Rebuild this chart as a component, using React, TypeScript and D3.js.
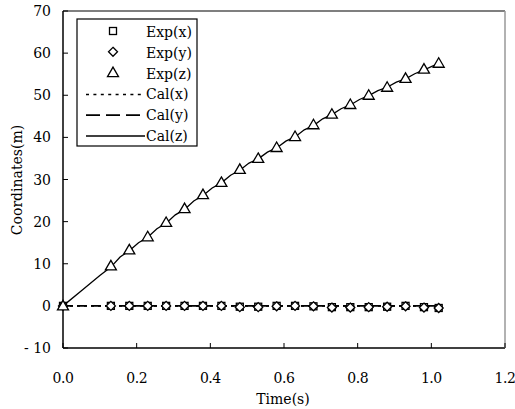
import * as d3 from "d3";

// measured points
const expT = [0, 0.13, 0.18, 0.23, 0.28, 0.33, 0.38, 0.43, 0.48, 0.53, 0.58, 0.63, 0.68, 0.73, 0.78, 0.83, 0.88, 0.93, 0.98, 1.02];
const expX = [0, 0, 0, 0, 0, 0, 0, 0, -0.2, -0.2, 0, 0, -0.1, -0.3, -0.3, -0.3, -0.2, 0, -0.3, -0.5];
const expY = [0, 0, 0, 0, 0, 0, 0, 0, -0.3, -0.3, -0.1, 0, -0.1, -0.4, -0.4, -0.3, -0.2, -0.1, -0.4, -0.5];
const expZ = [0, 9.5, 13.3, 16.4, 19.8, 23.1, 26.4, 29.3, 32.4, 35.0, 37.6, 40.2, 43.0, 45.5, 47.8, 50.0, 51.9, 54.0, 56.2, 57.6];

// calculated curves
const calT = [0, 0.05, 0.10, 0.13, 0.155, 0.18, 0.205, 0.23, 0.255, 0.28, 0.305, 0.33, 0.355, 0.38, 0.405, 0.43, 0.455, 0.48, 0.505, 0.53, 0.555, 0.58, 0.605, 0.63, 0.655, 0.68, 0.705, 0.73, 0.755, 0.78, 0.805, 0.83, 0.855, 0.88, 0.905, 0.93, 0.955, 0.98, 1.0, 1.02];
const calZ = [0, 3.6, 7.2, 9.2, 11.6, 13.1, 15.0, 16.3, 18.3, 19.6, 21.6, 22.9, 24.9, 26.2, 28.0, 29.2, 31.0, 32.2, 33.9, 34.9, 36.5, 37.5, 39.1, 40.1, 41.8, 42.8, 44.4, 45.4, 46.8, 47.7, 49.0, 49.9, 51.1, 51.9, 53.1, 53.9, 55.1, 56.0, 56.8, 57.6];
const calX = [0, 0, 0, 0, 0, 0, 0, 0, 0, 0, 0, 0, 0, 0, 0, 0, 0, 0, 0, 0, 0, 0, 0, 0, 0, 0, 0, 0, 0, 0, 0, 0, 0, 0, 0, 0, 0, 0, 0, 0];
const calY = [0, 0, 0, 0, 0, 0, 0, 0, 0, 0, 0, 0, 0, 0, 0, 0, 0, 0, 0, 0, 0, 0, 0, 0, 0, 0, 0, 0, 0, 0, 0, 0, 0, 0, 0, 0, 0, 0, 0, 0];

const xTicks = [0, 0.2, 0.4, 0.6, 0.8, 1.0, 1.2];
const yTicks = [-10, 0, 10, 20, 30, 40, 50, 60, 70];
const legendNames = ["Exp(x)", "Exp(y)", "Exp(z)", "Cal(x)", "Cal(y)", "Cal(z)"];

const font = "'DejaVu Serif', 'Liberation Serif', serif";

function Marker({ kind, x, y }: { kind: string; x: number; y: number }) {
    if (kind === "square") {
        return <rect x={x - 3.5} y={y - 3.5} width={7} height={7} fill="white" stroke="black" strokeWidth={1.3} />;
    }
    if (kind === "diamond") {
        return <path d={`M${x},${y - 4.5}L${x + 4.5},${y}L${x},${y + 4.5}L${x - 4.5},${y}Z`} fill="white" stroke="black" strokeWidth={1.3} />;
    }
    return <path d={`M${x},${y - 5.5}L${x + 5.5},${y + 4}L${x - 5.5},${y + 4}Z`} fill="white" stroke="black" strokeWidth={1.3} />;
}

export default function App() {
    const width = 515;
    const height = 409;
    const left = 63, right = 505, top = 11, bottom = 348;

    const x = d3.scaleLinear().domain([0, 1.2]).range([left, right]);
    const y = d3.scaleLinear().domain([-10, 70]).range([bottom, top]);

    const line = (vals: number[]) =>
        d3.line<number>().x((_, i) => x(calT[i])).y((v) => y(v))(vals) as string;

    const expSeries = [
        { kind: "square", vals: expX },
        { kind: "diamond", vals: expY },
        { kind: "triangle", vals: expZ },
    ];

    const legendY = (i: number) => 32 + i * 20.8;

    return (
        <svg width={width} height={height} style={{ position: "absolute", left: 0, top: 0, background: "white" }} fontFamily={font}>
            {/* frame */}
            <line x1={left} y1={top} x2={right} y2={top} stroke="black" strokeWidth={1.2} />
            <line x1={left} y1={top} x2={left} y2={bottom} stroke="black" strokeWidth={1.5} />
            <line x1={left} y1={bottom} x2={right} y2={bottom} stroke="black" strokeWidth={1.5} />
            <line x1={right} y1={top} x2={right} y2={bottom} stroke="#999" strokeWidth={1.5} />

            {xTicks.map((t) => (
                <g key={t}>
                    <line x1={x(t)} x2={x(t)} y1={bottom} y2={bottom - 5} stroke="black" strokeWidth={1} />
                    <text x={x(t)} y={378} textAnchor="middle" dominantBaseline="central" fontSize={14} letterSpacing={-0.5}>
                        {t.toFixed(1)}
                    </text>
                </g>
            ))}
            {yTicks.map((t) => (
                <g key={t}>
                    <line x1={left} x2={left + 5} y1={y(t)} y2={y(t)} stroke="black" strokeWidth={1} />
                    <text x={51} y={y(t)} textAnchor="end" dominantBaseline="central" fontSize={14}>
                        {t < 0 ? `- ${-t}` : t}
                    </text>
                </g>
            ))}

            <text x={283} y={399} textAnchor="middle" dominantBaseline="central" fontSize={14}>Time(s)</text>
            <text transform={`translate(17, 180) rotate(-90)`} textAnchor="middle" dominantBaseline="central" fontSize={14}>Coordinates(m)</text>

            {/* calculated */}
            <path d={line(calX)} fill="none" stroke="black" strokeWidth={1.5} strokeDasharray="3,4" />
            <path d={line(calY)} fill="none" stroke="black" strokeWidth={1.8} strokeDasharray="10,4" />
            <path d={line(calZ)} fill="none" stroke="black" strokeWidth={1.3} />

            {/* experiment */}
            {expSeries.map((s) =>
                s.vals.map((v, i) => <Marker key={s.kind + i} kind={s.kind} x={x(expT[i])} y={y(v)} />)
            )}

            {/* legend */}
            <rect x={77} y={19} width={120} height={127} fill="white" stroke="black" strokeWidth={1.2} />
            {legendNames.map((name, i) => (
                <g key={name}>
                    {i < 3 ? (
                        <Marker kind={["square", "diamond", "triangle"][i]} x={113} y={legendY(i) - 1} />
                    ) : (
                        <line
                            x1={86}
                            x2={145}
                            y1={legendY(i)}
                            y2={legendY(i)}
                            stroke="black"
                            strokeWidth={i === 4 ? 1.8 : 1.5}
                            strokeDasharray={i === 3 ? "3,4.4" : i === 4 ? "14,6" : undefined}
                        />
                    )}
                    <text x={146} y={legendY(i)} dominantBaseline="central" fontSize={14}>{name}</text>
                </g>
            ))}
        </svg>
    );
}
